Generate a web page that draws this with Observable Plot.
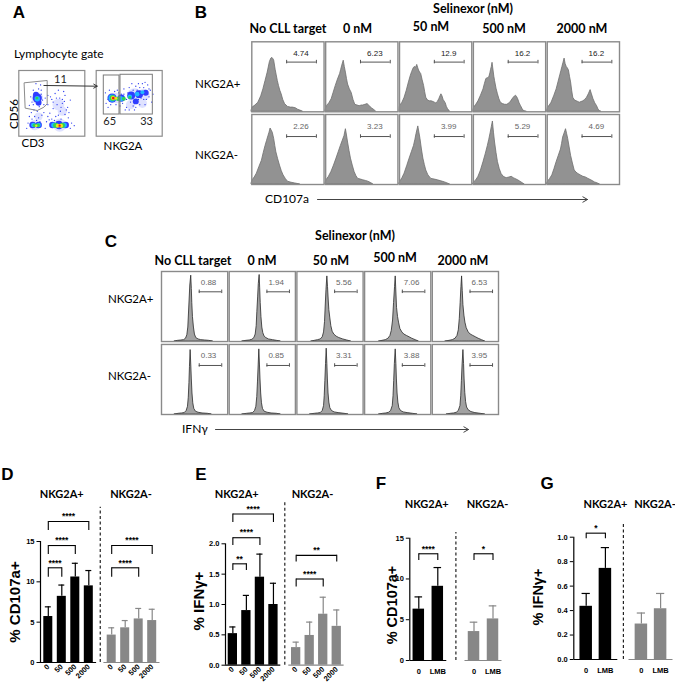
<!DOCTYPE html>
<html>
<head>
<meta charset="utf-8">
<script src="https://cdn.jsdelivr.net/npm/d3@7"></script>
<script src="https://cdn.jsdelivr.net/npm/@observablehq/plot@0.6"></script>
<style>
html,body{margin:0;padding:0;background:#fff;}
#page{position:relative;width:675px;height:692px;overflow:hidden;background:#fff;}
.lbl{position:absolute;white-space:nowrap;line-height:1;color:#000;}
</style>
</head>
<body>
<div id="page"></div>
<script>
// ================= DATA =================
const conditions = ["No CLL target", "0 nM", "50 nM", "500 nM", "2000 nM"];
const subsets = ["NKG2A+", "NKG2A-"];
const doses = ["0", "50", "500", "2000"];
const lmbTreatments = ["0", "LMB"];

// Panel B: CD107a gate percentages
const cd107aPlusGate = ["4.74", "6.23", "12.9", "16.2", "16.2"];
const cd107aMinusGate = ["2.26", "3.23", "3.99", "5.29", "4.69"];
// Panel C: IFNγ gate percentages
const ifngPlusGate = ["0.88", "1.94", "5.56", "7.06", "6.53"];
const ifngMinusGate = ["0.33", "0.85", "3.31", "3.88", "3.95"];

// Histograms: [relative fluorescence, relative count]
const cd107aPlusHist = [
  [[0,0.03],[0.01,0.06],[0.05,0.09],[0.09,0.13],[0.13,0.22],[0.16,0.32],[0.19,0.44],[0.22,0.56],[0.25,0.71],[0.27,0.76],[0.285,0.77],[0.3,0.75],[0.31,0.73],[0.33,0.6],[0.345,0.52],[0.36,0.44],[0.376,0.37],[0.395,0.3],[0.413,0.25],[0.435,0.17],[0.46,0.11],[0.5,0.07],[0.54,0.06],[0.57,0.06],[0.61,0.05],[0.64,0.03],[0.69,0.01],[0.71,0]],
  [[0,0.03],[0.014,0.08],[0.05,0.12],[0.083,0.18],[0.11,0.27],[0.14,0.37],[0.17,0.46],[0.2,0.54],[0.215,0.6],[0.23,0.66],[0.25,0.73],[0.265,0.64],[0.28,0.56],[0.295,0.47],[0.31,0.39],[0.335,0.32],[0.36,0.27],[0.385,0.17],[0.41,0.1],[0.44,0.09],[0.47,0.08],[0.5,0.09],[0.52,0.09],[0.55,0.1],[0.58,0.11],[0.61,0.08],[0.64,0.05],[0.68,0.02],[0.7,0]],
  [[0,0.02],[0.005,0.08],[0.04,0.13],[0.07,0.2],[0.1,0.3],[0.13,0.42],[0.155,0.51],[0.175,0.57],[0.195,0.62],[0.21,0.64],[0.23,0.63],[0.245,0.67],[0.26,0.62],[0.27,0.59],[0.285,0.56],[0.3,0.54],[0.32,0.45],[0.34,0.37],[0.355,0.28],[0.37,0.2],[0.395,0.16],[0.42,0.15],[0.445,0.15],[0.47,0.14],[0.49,0.13],[0.51,0.12],[0.53,0.14],[0.55,0.18],[0.57,0.23],[0.58,0.25],[0.595,0.22],[0.61,0.17],[0.64,0.12],[0.655,0.07],[0.67,0.04],[0.7,0]],
  [[0,0.02],[0.01,0.06],[0.04,0.1],[0.07,0.15],[0.105,0.23],[0.14,0.32],[0.16,0.4],[0.18,0.47],[0.2,0.48],[0.22,0.49],[0.235,0.55],[0.245,0.6],[0.255,0.64],[0.265,0.7],[0.275,0.62],[0.29,0.5],[0.3,0.44],[0.32,0.33],[0.34,0.25],[0.36,0.18],[0.38,0.13],[0.41,0.11],[0.44,0.1],[0.47,0.1],[0.51,0.13],[0.53,0.16],[0.55,0.19],[0.575,0.22],[0.59,0.23],[0.605,0.21],[0.62,0.18],[0.64,0.12],[0.66,0.08],[0.68,0.04],[0.7,0.01],[0.74,0]],
  [[0,0.02],[0.01,0.06],[0.035,0.09],[0.06,0.13],[0.095,0.22],[0.13,0.32],[0.155,0.42],[0.18,0.52],[0.195,0.58],[0.21,0.64],[0.225,0.7],[0.24,0.76],[0.255,0.68],[0.27,0.64],[0.285,0.62],[0.3,0.59],[0.315,0.5],[0.33,0.42],[0.345,0.3],[0.36,0.2],[0.385,0.16],[0.41,0.15],[0.43,0.14],[0.45,0.13],[0.475,0.14],[0.5,0.15],[0.525,0.17],[0.55,0.2],[0.575,0.25],[0.6,0.31],[0.615,0.26],[0.64,0.18],[0.665,0.12],[0.69,0.08],[0.71,0.03],[0.73,0.01],[0.75,0]]
];
const cd107aMinusHist = [
  [[0,0.03],[0.01,0.06],[0.04,0.1],[0.07,0.155],[0.105,0.25],[0.14,0.34],[0.165,0.45],[0.19,0.55],[0.21,0.62],[0.23,0.69],[0.245,0.74],[0.26,0.8],[0.275,0.77],[0.29,0.74],[0.31,0.65],[0.325,0.55],[0.34,0.46],[0.365,0.36],[0.39,0.27],[0.415,0.19],[0.44,0.13],[0.47,0.08],[0.5,0.04],[0.55,0.025],[0.6,0.015],[0.67,0]],
  [[0,0.03],[0.01,0.06],[0.045,0.11],[0.08,0.18],[0.115,0.27],[0.15,0.37],[0.18,0.46],[0.21,0.55],[0.235,0.62],[0.26,0.69],[0.28,0.79],[0.295,0.7],[0.31,0.6],[0.33,0.48],[0.35,0.37],[0.375,0.27],[0.4,0.18],[0.425,0.12],[0.45,0.08],[0.49,0.07],[0.52,0.06],[0.56,0.05],[0.59,0.04],[0.63,0.02],[0.66,0]],
  [[0,0.02],[0.01,0.04],[0.04,0.09],[0.07,0.155],[0.105,0.26],[0.14,0.37],[0.17,0.46],[0.2,0.55],[0.22,0.64],[0.235,0.72],[0.26,0.83],[0.275,0.74],[0.29,0.65],[0.31,0.5],[0.33,0.37],[0.35,0.28],[0.37,0.2],[0.4,0.13],[0.44,0.08],[0.49,0.07],[0.53,0.06],[0.58,0.045],[0.63,0.03],[0.7,0]],
  [[0,0.02],[0.01,0.03],[0.04,0.06],[0.07,0.11],[0.105,0.2],[0.14,0.32],[0.17,0.43],[0.2,0.55],[0.22,0.64],[0.24,0.74],[0.255,0.82],[0.27,0.9],[0.285,0.74],[0.3,0.6],[0.32,0.45],[0.34,0.32],[0.365,0.22],[0.39,0.15],[0.42,0.11],[0.46,0.09],[0.5,0.1],[0.53,0.11],[0.56,0.09],[0.58,0.08],[0.62,0.06],[0.65,0.04],[0.71,0]],
  [[0,0.02],[0.01,0.04],[0.04,0.08],[0.07,0.13],[0.1,0.22],[0.13,0.32],[0.16,0.41],[0.19,0.5],[0.205,0.58],[0.22,0.67],[0.24,0.73],[0.26,0.79],[0.275,0.72],[0.29,0.65],[0.31,0.53],[0.33,0.41],[0.355,0.3],[0.38,0.2],[0.405,0.17],[0.43,0.15],[0.465,0.13],[0.5,0.11],[0.535,0.1],[0.57,0.08],[0.61,0.06],[0.66,0.03],[0.7,0.015],[0.73,0]]
];
const ifngPlusHist = [
  [[0.2,0],[0.25,0.01],[0.3,0.015],[0.34,0.02],[0.37,0.04],[0.39,0.09],[0.405,0.2],[0.415,0.4],[0.425,0.6],[0.435,0.8],[0.449,0.94],[0.458,0.75],[0.465,0.55],[0.475,0.35],[0.49,0.2],[0.505,0.1],[0.525,0.05],[0.56,0.03],[0.6,0.02],[0.66,0.015],[0.72,0.01],[0.78,0]],
  [[0.2,0],[0.26,0.01],[0.31,0.015],[0.35,0.025],[0.38,0.05],[0.4,0.1],[0.415,0.22],[0.425,0.42],[0.437,0.63],[0.447,0.82],[0.46,0.95],[0.468,0.76],[0.476,0.55],[0.487,0.35],[0.5,0.2],[0.515,0.12],[0.535,0.07],[0.56,0.05],[0.6,0.03],[0.66,0.02],[0.72,0.01],[0.78,0]],
  [[0.22,0],[0.27,0.01],[0.32,0.02],[0.36,0.03],[0.39,0.06],[0.41,0.13],[0.425,0.28],[0.435,0.5],[0.447,0.74],[0.46,0.93],[0.47,0.78],[0.48,0.6],[0.49,0.45],[0.505,0.33],[0.52,0.22],[0.54,0.14],[0.565,0.1],[0.6,0.07],[0.64,0.05],[0.7,0.03],[0.76,0.015],[0.82,0]],
  [[0.22,0],[0.27,0.01],[0.32,0.02],[0.36,0.04],[0.39,0.08],[0.41,0.15],[0.43,0.3],[0.445,0.55],[0.46,0.78],[0.47,0.93],[0.48,0.7],[0.49,0.48],[0.505,0.35],[0.52,0.27],[0.54,0.18],[0.57,0.13],[0.6,0.1],[0.64,0.08],[0.68,0.06],[0.72,0.04],[0.77,0.02],[0.82,0]],
  [[0.2,0],[0.26,0.01],[0.31,0.02],[0.35,0.04],[0.38,0.08],[0.4,0.16],[0.415,0.32],[0.428,0.55],[0.44,0.78],[0.45,0.93],[0.46,0.72],[0.47,0.52],[0.485,0.37],[0.5,0.27],[0.52,0.19],[0.55,0.13],[0.58,0.1],[0.62,0.08],[0.66,0.06],[0.7,0.04],[0.75,0.02],[0.8,0]]
];
const ifngMinusHist = [
  [[0.2,0],[0.26,0.01],[0.31,0.015],[0.35,0.02],[0.38,0.05],[0.4,0.11],[0.412,0.24],[0.422,0.45],[0.43,0.68],[0.44,0.92],[0.45,0.7],[0.458,0.5],[0.468,0.3],[0.48,0.16],[0.495,0.08],[0.52,0.04],[0.56,0.025],[0.62,0.015],[0.7,0.01],[0.76,0]],
  [[0.2,0],[0.27,0.01],[0.32,0.015],[0.36,0.02],[0.39,0.05],[0.41,0.11],[0.424,0.25],[0.435,0.47],[0.445,0.7],[0.455,0.93],[0.465,0.7],[0.473,0.5],[0.483,0.3],[0.495,0.16],[0.51,0.08],[0.535,0.04],[0.58,0.025],[0.64,0.015],[0.72,0.01],[0.78,0]],
  [[0.2,0],[0.27,0.01],[0.32,0.015],[0.36,0.02],[0.39,0.05],[0.41,0.12],[0.42,0.26],[0.43,0.48],[0.44,0.72],[0.45,0.94],[0.46,0.72],[0.468,0.5],[0.478,0.3],[0.49,0.17],[0.505,0.09],[0.53,0.05],[0.57,0.03],[0.63,0.02],[0.72,0.01],[0.78,0]],
  [[0.22,0],[0.28,0.01],[0.33,0.015],[0.37,0.025],[0.4,0.05],[0.425,0.12],[0.437,0.26],[0.447,0.48],[0.457,0.72],[0.47,0.93],[0.48,0.72],[0.488,0.5],[0.498,0.3],[0.51,0.17],[0.525,0.09],[0.55,0.05],[0.59,0.03],[0.65,0.02],[0.73,0.01],[0.8,0]],
  [[0.22,0],[0.28,0.01],[0.33,0.015],[0.37,0.025],[0.4,0.05],[0.425,0.12],[0.437,0.26],[0.447,0.48],[0.457,0.7],[0.47,0.92],[0.48,0.72],[0.488,0.5],[0.498,0.31],[0.51,0.18],[0.525,0.1],[0.55,0.06],[0.59,0.035],[0.65,0.02],[0.73,0.01],[0.8,0]]
];

// Panel A: density blobs [CD3 %, CD56 %, spread %, density level] and sparse events
const cd3Density = [
  [28,58,9,0],[60,48,9,0],[66,38,7,0],[30,30,6,0],[24,17,8,0],[62,17,10,0],
  [28,58,7,1],[26,63,4.5,1],[30,51,4.5,1],[21,17,5,1],[30,17,5,1],[51,17,5,1],[61,17,6.5,1],[71,17,5,1],
  [28,57,4.2,2],[22,17,3.5,2],[30,17,3.5,2],[53,17,4,2],[69,17,4,2],
  [27.5,58,2.2,3],[24,16.5,3,3],[29,16.5,3,3],[56,16.5,4,3],[66,16.5,4,3],
  [26.5,16,1.8,4],[59,16,3,4],[64,16,3,4],
  [61.5,16,2.2,5],
  [62,16,1.4,6]
];
const cd3Events = [[18,60],[22,70],[25,66],[30,72],[34,64],[20,52],[36,55],[31,45],[23,40],[38,48],[28,38],[16,47],[33,78],[26,80],[24,30],[30,28],[20,26],[35,32],[27,24],[48,60],[55,65],[62,58],[70,62],[66,50],[58,48],[74,44],[52,42],[63,38],[70,33],[56,30],[47,35],[78,55],[60,70],[68,68],[52,52],[75,28],[44,48],[42,22],[46,25],[80,20],[78,12],[12,12],[40,12],[84,16],[14,20],[50,26],[64,26],[58,22],[38,36],[44,62],[66,56],[72,40],[22,48],[34,70],[19,36],[40,58],[57,58],[64,44],[69,53],[50,56],[76,36],[60,32],[54,24],[44,30],[32,22],[16,30]];
const nkg2aDensity = [
  [30,58,8,0],[58,62,11,0],[72,63,9,0],[52,48,7,0],[70,50,7,0],
  [24,58,7,1],[38,58,5.5,1],[53,62,6,1],[65,64,6,1],[75,66,4.5,1],[60,53,4.5,1],
  [24,58,5.5,2],[37,57,4,2],[51,60,3.5,2],[62,64,3.5,2],[70,67,3,2],
  [25,58,4.5,3],[33,57,3.5,3],[42,57,3,3],[51,59,2.3,3],
  [25.5,58,3.2,4],[30,57.5,2.2,4],
  [25.8,58,2.4,5],
  [25.8,58,1.8,6]
];
const nkg2aEvents = [[15,50],[14,66],[18,44],[20,70],[32,70],[36,46],[42,72],[46,44],[50,74],[56,46],[60,76],[66,48],[72,74],[76,56],[80,60],[82,70],[74,48],[58,40],[44,40],[86,64],[70,80],[54,80],[64,56],[48,66],[38,64],[30,48],[84,52],[78,78],[62,70],[52,52],[40,50],[68,58],[22,48],[34,66],[56,70],[66,74],[80,72],[46,56],[72,56],[60,44],[50,40],[78,64],[42,64],[28,68],[18,56],[64,80],[74,82]];
const lymphGate = [[8.6,81.3],[43,84.8],[43,49.3],[38,44.1],[28,39.1],[10.2,42.6]];
const nkg2aGates = [[11.5,35.3,33,92.4,"65"],[36.8,85.8,33,93.5,"33"]];
const lymphGatePct = "11";

// Panels D–G: means and upper SD
const cd107aPlusMean = [5.7, 8.2, 10.6, 9.5];
const cd107aPlusSD = [1.2, 1.4, 1.7, 1.9];
const cd107aMinusMean = [3.4, 4.3, 5.4, 5.2];
const cd107aMinusSD = [0.9, 0.9, 1.3, 1.4];
const ifngPlusMean = [0.52, 0.90, 1.45, 1.00];
const ifngPlusSD = [0.11, 0.25, 0.38, 0.35];
const ifngMinusMean = [0.29, 0.49, 0.84, 0.64];
const ifngMinusSD = [0.09, 0.22, 0.28, 0.27];
const lmbCd107aPlusMean = [6.3, 9.1];
const lmbCd107aPlusSD = [1.5, 2.3];
const lmbCd107aMinusMean = [3.55, 5.1];
const lmbCd107aMinusSD = [1.15, 1.6];
const lmbIfngPlusMean = [0.435, 0.745];
const lmbIfngPlusSD = [0.105, 0.17];
const lmbIfngMinusMean = [0.29, 0.415];
const lmbIfngMinusSD = [0.09, 0.125];

// significance: [subset, from, to, stars]
const cd107aSig = [["NKG2A+","0","50","****"],["NKG2A+","0","500","****"],["NKG2A+","0","2000","****"],["NKG2A-","0","500","****"],["NKG2A-","0","2000","****"]];
const ifngSig = [["NKG2A+","0","50","**"],["NKG2A+","0","500","****"],["NKG2A+","0","2000","****"],["NKG2A-","0","500","****"],["NKG2A-","0","2000","**"]];
const lmbCd107aSig = [["NKG2A+","0","LMB","****"],["NKG2A-","0","LMB","*"]];
const lmbIfngSig = [["NKG2A+","0","LMB","*"]];

// ================= RENDER =================
const page = document.getElementById("page");
const ARIAL = "'Liberation Sans', Arial, sans-serif";
const CALIBRI = "Lato, 'Open Sans', sans-serif";

function place(svg, left, top) {
  svg.style.position = "absolute";
  svg.style.left = left + "px";
  svg.style.top = top + "px";
  page.appendChild(svg);
}
function label(text, x, y, o = {}) {
  const {size = 12, weight = "normal", family = CALIBRI, anchor = "middle", rotate = 0, color = "#000"} = o;
  const el = document.createElement("div");
  el.className = "lbl";
  el.textContent = text;
  el.style.left = x + "px"; el.style.top = y + "px";
  el.style.fontSize = size + "px"; el.style.fontWeight = weight;
  el.style.fontFamily = family; el.style.color = color;
  const tx = anchor === "middle" ? "-50%" : anchor === "end" ? "-100%" : "0";
  el.style.transform = `translate(${tx},-50%)` + (rotate ? ` rotate(${rotate}deg)` : "");
  page.appendChild(el);
}
const baseStyle = (size, weight) => `font-family:${ARIAL};font-size:${size}px;font-weight:${weight};background:transparent;overflow:visible;color:#000;`;

// ---------- Panel A ----------
const densityColors = ["#dfe2ff", "#2f3dff", "#1fb6ff", "#2fd455", "#f2e41c", "#ff8c1a", "#e8131b"];
{
  const svg = Plot.plot({
    width: 160, height: 85, marginLeft: 8.3, marginRight: 8.3, marginTop: 10, marginBottom: 9.3,
    style: baseStyle(11, "normal"),
    x: {domain: [0, 100], axis: null}, y: {domain: [0, 100], axis: null},
    fx: {domain: ["CD3", "NKG2A"], paddingInner: 0.1473, paddingOuter: 0, round: false, axis: null},
    r: {type: "linear", domain: [0, 100], range: [0, 66]},
    color: {type: "ordinal", domain: [0,1,2,3,4,5,6], range: densityColors},
    marks: [
      Plot.dot(cd3Density.filter(d => d[3] === 0), {fx: () => "CD3", x: d => d[0], y: d => d[1], r: d => d[2], fill: d => d[3], sort: null}),
      Plot.dot(cd3Events, {fx: () => "CD3", x: d => d[0], y: d => d[1], r: 0.65, fill: "#2a3af0"}),
      Plot.dot(cd3Density.filter(d => d[3] > 0), {fx: () => "CD3", x: d => d[0], y: d => d[1], r: d => d[2], fill: d => d[3], sort: null}),
      Plot.dot(nkg2aDensity.filter(d => d[3] === 0), {fx: () => "NKG2A", x: d => d[0], y: d => d[1], r: d => d[2], fill: d => d[3], sort: null}),
      Plot.dot(nkg2aEvents, {fx: () => "NKG2A", x: d => d[0], y: d => d[1], r: 0.65, fill: "#2a3af0"}),
      Plot.dot(nkg2aDensity.filter(d => d[3] > 0), {fx: () => "NKG2A", x: d => d[0], y: d => d[1], r: d => d[2], fill: d => d[3], sort: null}),
      Plot.line(lymphGate, {fx: () => "CD3", x: d => d[0], y: d => d[1], curve: "linear-closed", stroke: "#8c8c8c", strokeWidth: 1}),
      Plot.text([lymphGatePct], {fx: () => "CD3", x: () => 63, y: () => 86, text: d => d, fontSize: 11, fontFamily: CALIBRI, fill: "#222"}),
      Plot.rect(nkg2aGates, {fx: () => "NKG2A", x1: d => d[0], x2: d => d[1], y1: d => d[2], y2: d => d[3], fill: "none", stroke: "#7a7a7a", strokeWidth: 1}),
      Plot.text(nkg2aGates, {fx: () => "NKG2A", x: d => (d[0] + d[1]) / 2 + (d[4] === "65" ? -3 : 15), y: () => 22, text: d => d[4], fontSize: 11, fontFamily: CALIBRI, fill: "#222"}),
      Plot.frame({stroke: "#8c8c8c", strokeWidth: 1.2}),
      Plot.arrow([lymphGatePct], {fx: () => "CD3", x1: () => 38, y1: () => 77.2, x2: () => 118.8, y2: () => 76.1, stroke: "#333", strokeWidth: 1, headLength: 6})
    ]
  });
  place(svg, 10, 60);
}
label("A", 19, 11.5, {size: 17, weight: "bold", family: ARIAL});
label("Lymphocyte gate", 14, 53.5, {anchor: "start", size: 12});
label("CD56", 13.5, 114, {size: 11.5, rotate: -90});
label("CD3", 33, 143, {size: 11.5});
label("NKG2A", 123, 145.5, {size: 11.5});

// ---------- Panels B and C (histograms) ----------
function histPanel(cfg) {
  const {left, top, width, height, mL, mR, mT, mB, fxIn, fyIn, plusH, minusH, plusG, minusG, gate, fill, stroke, labelColor} = cfg;
  const hist = [], gates = [], ends = [];
  [[subsets[0], plusH], [subsets[1], minusH]].forEach(([row, hs]) =>
    hs.forEach((pts, i) => pts.forEach(([x, y]) => hist.push({row, cond: conditions[i], key: row + i, x, y}))));
  [[subsets[0], plusG], [subsets[1], minusG]].forEach(([row, vs]) =>
    vs.forEach((v, i) => {
      gates.push({row, cond: conditions[i], v});
      ends.push({row, cond: conditions[i], x: gate.x1});
      ends.push({row, cond: conditions[i], x: gate.x2});
    }));
  const svg = Plot.plot({
    width, height, marginLeft: mL, marginRight: mR, marginTop: mT, marginBottom: mB,
    style: baseStyle(8, "normal"),
    x: {domain: [0, 1], axis: null}, y: {domain: [0, 1], axis: null},
    fx: {domain: conditions, paddingInner: fxIn, paddingOuter: 0, round: false, axis: null},
    fy: {domain: subsets, paddingInner: fyIn, paddingOuter: 0, round: false, axis: null},
    marks: [
      Plot.areaY(hist, {fx: "cond", fy: "row", x: "x", y: "y", z: "key", fill, stroke, strokeWidth: 0.8}),
      Plot.frame({stroke: "#8a8a8a", strokeWidth: 1.4}),
      Plot.ruleY(gates, {fx: "cond", fy: "row", y: d => gate.y[d.row], x1: () => gate.x1, x2: () => gate.x2, stroke: "#555", strokeWidth: 1}),
      Plot.ruleX(ends, {fx: "cond", fy: "row", x: "x", y1: d => gate.y[d.row] - 0.025, y2: d => gate.y[d.row] + 0.025, stroke: "#555", strokeWidth: 1}),
      Plot.text(gates, {fx: "cond", fy: "row", x: () => gate.lx, y: d => gate.ly[d.row], text: "v", fontSize: 8, fontFamily: ARIAL, fill: d => labelColor[d.row]})
    ]
  });
  place(svg, left, top);
}
histPanel({
  left: 240, top: 0, width: 385, height: 190, mL: 11.3, mR: 6, mT: 41.3, mB: 6, fxIn: 0.0217, fyIn: 0.037,
  plusH: cd107aPlusHist, minusH: cd107aMinusHist, plusG: cd107aPlusGate, minusG: cd107aMinusGate,
  gate: {x1: 0.482, x2: 0.894, lx: 0.68, y: {"NKG2A+": 0.71, "NKG2A-": 0.685}, ly: {"NKG2A+": 0.83, "NKG2A-": 0.826}},
  fill: "#929292", stroke: "#6e6e6e", labelColor: {"NKG2A+": "#222", "NKG2A-": "#666"}
});
histPanel({
  left: 155, top: 265, width: 350, height: 155, mL: 6, mR: 7, mT: 6, mB: 6, fxIn: 0.0222, fyIn: 0.04,
  plusH: ifngPlusHist, minusH: ifngMinusHist, plusG: ifngPlusGate, minusG: ifngMinusGate,
  gate: {x1: 0.57, x2: 0.91, lx: 0.71, y: {"NKG2A+": 0.71, "NKG2A-": 0.7}, ly: {"NKG2A+": 0.84, "NKG2A-": 0.84}},
  fill: "#a2a2a2", stroke: "#2a2a2a", labelColor: {"NKG2A+": "#666", "NKG2A-": "#666"}
});
function axisArrow(x1, x2, y) {
  const svg = Plot.plot({
    width: x2 - x1 + 8, height: 14, marginLeft: 2, marginRight: 6, marginTop: 0, marginBottom: 0,
    style: baseStyle(10, "normal"),
    x: {domain: [0, 1], axis: null}, y: {domain: [0, 1], axis: null},
    marks: [Plot.arrow([0], {x1: () => 0, x2: () => 1, y1: () => 0.5, y2: () => 0.5, stroke: "#444", strokeWidth: 1, headLength: 8})]
  });
  place(svg, x1 - 2, y - 7);
}
axisArrow(317, 587, 199);
axisArrow(215, 468, 429);

// B labels
label("B", 201, 11.5, {size: 17, weight: "bold", family: ARIAL});
label("Selinexor (nM)", 473, 8.5, {size: 12.5, weight: "bold"});
const bHeadX = [288, 357.5, 431, 504, 582], bHeadY = [29, 29, 27, 29, 29];
conditions.forEach((c, i) => label(c, bHeadX[i], bHeadY[i], {size: 12.5, weight: "bold"}));
label(subsets[0], 195, 84, {anchor: "start", size: 11.5});
label(subsets[1], 195, 155, {anchor: "start", size: 11.5});
label("CD107a", 265, 199, {anchor: "start", size: 12});
// C labels
label("C", 111, 241, {size: 17, weight: "bold", family: ARIAL});
label("Selinexor (nM)", 355, 236, {size: 12.5, weight: "bold"});
const cHeadX = [193, 262, 331, 395, 463], cHeadY = [261, 261, 261, 258, 261];
conditions.forEach((c, i) => label(c, cHeadX[i], cHeadY[i], {size: 12.5, weight: "bold"}));
label(subsets[0], 108, 299, {anchor: "start", size: 11.5});
label(subsets[1], 108, 376, {anchor: "start", size: 11.5});
label("IFNγ", 182, 429, {anchor: "start", size: 12});

// ---------- Panels D–G (bar charts) ----------
function barPanel(cfg) {
  const {left, top, width, height, mL, mR, mT, mB, cats, yMax, yTicks, yFmt, rotate, tickPad, pIn, pOut, fxIn,
         plusMean, plusSD, minusMean, minusSD, sig, levels, sepTop} = cfg;
  const R = width - mL - mR;
  const stepF = R / (2 - fxIn), W = stepF * (1 - fxIn), gap = stepF * fxIn;
  const stepX = W / (cats.length - pIn + 2 * pOut), bw = stepX * (1 - pIn), c0 = stepX * pOut + bw / 2;
  const rows = [];
  cats.forEach((c, i) => {
    rows.push({g: subsets[0], dose: c, mean: plusMean[i], top: plusMean[i] + plusSD[i]});
    rows.push({g: subsets[1], dose: c, mean: minusMean[i], top: minusMean[i] + minusSD[i]});
  });
  const colors = {"NKG2A+": "#000", "NKG2A-": "#878787"};
  const marks = [];
  subsets.forEach(g => {
    const d = rows.filter(r => r.g === g);
    marks.push(Plot.ruleX(d, {fx: "g", x: "dose", y1: "mean", y2: "top", stroke: colors[g], strokeWidth: 1.2}));
    marks.push(Plot.tickY(d, {fx: "g", x: "dose", y: "top", stroke: colors[g], strokeWidth: 1.2, insetLeft: bw * 0.17, insetRight: bw * 0.17}));
    marks.push(Plot.barY(d, {fx: "g", x: "dose", y: "mean", fill: colors[g]}));
    marks.push(Plot.ruleY([g], {fx: d => d, y: () => 0, stroke: colors[g], strokeWidth: 1.2}));
  });
  marks.push(Plot.ruleX([subsets[0]], {fx: d => d, x: () => cats[0], y1: () => 0, y2: () => yMax, dx: -c0, stroke: "#000", strokeWidth: 1.2}));
  marks.push(Plot.ruleX([subsets[1]], {fx: d => d, x: () => cats[0], y1: () => 0, y2: () => sepTop, dx: -(c0 + gap / 2), stroke: "#222", strokeWidth: 1.2, strokeDasharray: "3,2.5"}));
  sig.forEach(([g, a, b, s], k) => {
    const [yb, yl] = levels[k];
    const ia = cats.indexOf(a), ib = cats.indexOf(b);
    const d = [{g, a, b, yb, yl, s}];
    marks.push(Plot.link(d, {fx: "g", x1: "a", x2: "b", y1: "yb", y2: "yb", stroke: "#000", strokeWidth: 1.1}));
    marks.push(Plot.ruleX([{g, x: a, yb, yl}, {g, x: b, yb, yl}], {fx: "g", x: "x", y1: "yl", y2: "yb", stroke: "#000", strokeWidth: 1.1}));
    marks.push(Plot.text(d, {fx: "g", x: "a", y: "yb", text: "s", dx: (ib - ia) * stepX / 2, dy: -5, fontSize: 8.5, fontWeight: "bold"}));
  });
  const svg = Plot.plot({
    width, height, marginLeft: mL, marginRight: mR, marginTop: mT, marginBottom: mB,
    style: baseStyle(7.5, "bold"),
    x: {domain: cats, paddingInner: pIn, paddingOuter: pOut, round: false, tickSize: 0, tickPadding: tickPad, tickRotate: rotate, label: null},
    y: {domain: [0, yMax], ticks: yTicks, tickFormat: yFmt, tickSize: 3.5, tickPadding: 2.5, label: null},
    fx: {domain: subsets, paddingInner: fxIn, paddingOuter: 0, round: false, axis: null},
    marks
  });
  place(svg, left, top);
}
barPanel({
  left: 0, top: 460, width: 165, height: 232, mL: 40, mR: 5.5, mT: 81, mB: 30,
  cats: doses, yMax: 15, yTicks: [0, 5, 10, 15], yFmt: d3.format("d"), rotate: -45, tickPad: 3,
  pIn: 0.333, pOut: 0.244, fxIn: 0.1151,
  plusMean: cd107aPlusMean, plusSD: cd107aPlusSD, minusMean: cd107aMinusMean, minusSD: cd107aMinusSD,
  sig: cd107aSig, levels: [[11.74, 10.57], [14.5, 13.39], [17.48, 16.36], [11.74, 10.57], [14.5, 13.39]], sepTop: 19.25
});
barPanel({
  left: 165, top: 460, width: 180, height: 232, mL: 60, mR: 1.4, mT: 83.3, mB: 27.3,
  cats: doses, yMax: 2, yTicks: [0, 0.5, 1, 1.5, 2], yFmt: d3.format(".1f"), rotate: -45, tickPad: 3,
  pIn: 0.313, pOut: 0.2, fxIn: 0.1264,
  plusMean: ifngPlusMean, plusSD: ifngPlusSD, minusMean: ifngMinusMean, minusSD: ifngMinusSD,
  sig: ifngSig, levels: [[1.67, 1.56], [2.10, 1.97], [2.49, 2.35], [1.42, 1.29], [1.81, 1.70]], sepTop: 2.71
});
barPanel({
  left: 340, top: 460, width: 165, height: 232, mL: 69.3, mR: 3.5, mT: 77.7, mB: 32,
  cats: lmbTreatments, yMax: 15, yTicks: [0, 5, 10, 15], yFmt: d3.format("d"), rotate: 0, tickPad: 8,
  pIn: 0.395, pOut: 0.171, fxIn: 0.33,
  plusMean: lmbCd107aPlusMean, plusSD: lmbCd107aPlusSD, minusMean: lmbCd107aMinusMean, minusSD: lmbCd107aMinusSD,
  sig: lmbCd107aSig, levels: [[13.09, 12.27], [13.09, 12.27]], sepTop: 15.7
});
barPanel({
  left: 505, top: 460, width: 170, height: 232, mL: 68.3, mR: 2.5, mT: 76.7, mB: 33,
  cats: lmbTreatments, yMax: 1, yTicks: [0, 0.2, 0.4, 0.6, 0.8, 1], yFmt: d3.format(".1f"), rotate: 0, tickPad: 8,
  pIn: 0.349, pOut: 0.32, fxIn: 0.203,
  plusMean: lmbIfngPlusMean, plusSD: lmbIfngPlusSD, minusMean: lmbIfngMinusMean, minusSD: lmbIfngMinusSD,
  sig: lmbIfngSig, levels: [[1.033, 0.987]], sepTop: 1.11
});
label("D", 7.5, 474, {size: 17, weight: "bold", family: ARIAL});
label("E", 201, 474, {size: 17, weight: "bold", family: ARIAL});
label("F", 381, 483, {size: 17, weight: "bold", family: ARIAL});
label("G", 547, 483, {size: 17, weight: "bold", family: ARIAL});
[[61.7, 131, 493], [236.7, 312.5, 493], [426.7, 487.5, 503], [605.5, 655, 503]].forEach(([a, b, y]) => {
  label(subsets[0], a, y, {size: 11, weight: "bold"});
  label(subsets[1], b, y, {size: 11, weight: "bold"});
});
label("% CD107a+", 14, 601.5, {size: 15, weight: "bold", family: ARIAL, rotate: -90});
label("% IFNγ+", 198.3, 601, {size: 15, weight: "bold", family: ARIAL, rotate: -90});
label("% CD107a+", 391.7, 605, {size: 14.5, weight: "bold", family: ARIAL, rotate: -90});
label("% IFNγ+", 538.3, 596.5, {size: 14.5, weight: "bold", family: ARIAL, rotate: -90});
</script>
</body>
</html>
